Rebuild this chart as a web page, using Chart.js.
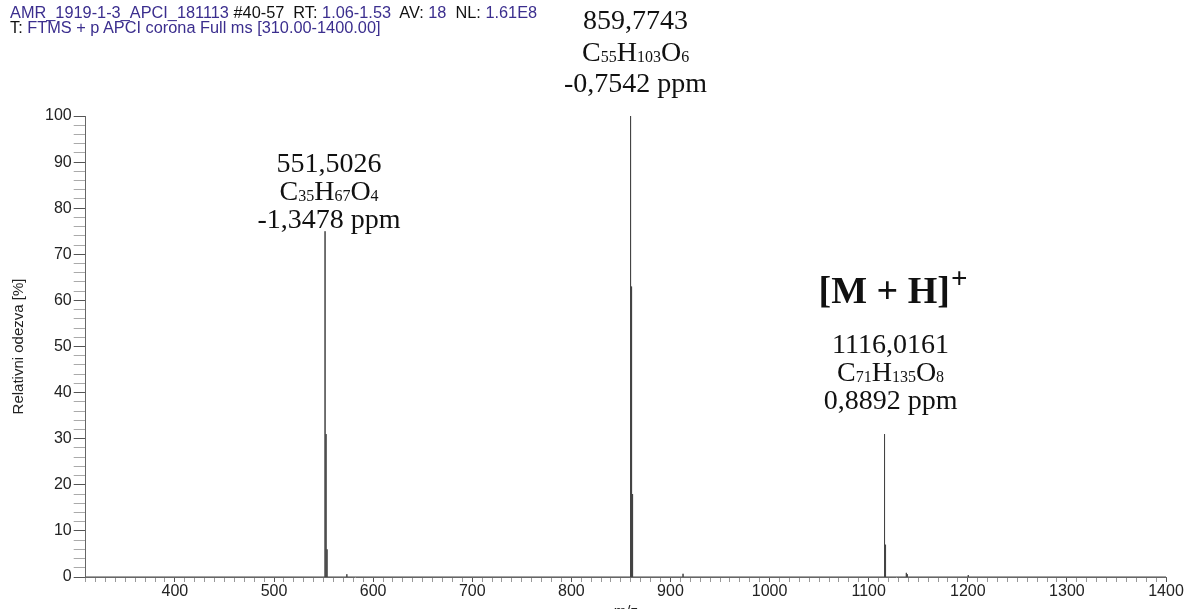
<!DOCTYPE html>
<html>
<head>
<meta charset="utf-8">
<script src="https://cdn.jsdelivr.net/npm/chart.js@4.4.0/dist/chart.umd.min.js"></script>
<style>
  html, body { margin: 0; padding: 0; background: #fff; overflow: hidden; }
  #wrap { position: relative; width: 1186px; height: 619px; }
  #header { position: absolute; left: 10px; top: 5px; font-family: "Liberation Sans", Arial, sans-serif;
            font-size: 16px; line-height: 15px; color: #111; z-index: 2; white-space: pre;
            transform: scaleX(1.02); transform-origin: 0 0; }
  #header .v { color: #3b2e8e; }
</style>
</head>
<body>
<div id="wrap">
  <div id="header"><span class="v">AMR_1919-1-3_APCI_181113</span> #40-57  RT: <span class="v">1.06-1.53</span>  AV: <span class="v">18</span>  NL: <span class="v">1.61E8</span>
T: <span class="v">FTMS + p APCI corona Full ms [310.00-1400.00]</span></div>
  <canvas id="spectrum"></canvas>
</div>
<script>
// peaks (m/z, relative intensity %)
const peakMz        = [551.50, 552.51, 553.51, 573.5, 859.77, 860.78, 861.78, 912.7, 1116.02, 1117.02, 1138.0, 1139.0, 1200.5];
const peakIntensity = [75,     31,     6,      0.6,   100,    63,     18,     0.7,   31,      7,       0.9,    0.6,    0.4];

// range of the scan
const mzMin = 310;
const mzMax = 1400;

// tick labels
const xTickLabels = [400, 500, 600, 700, 800, 900, 1000, 1100, 1200, 1300, 1400];
const yTickLabels = [0, 10, 20, 30, 40, 50, 60, 70, 80, 90, 100];

// peak annotations
const labelMz      = [551.5026, 859.7743, 1116.0161];
const labelMass    = ['551,5026', '859,7743', '1116,0161'];
const labelFormula = ['C35H67O4', 'C55H103O6', 'C71H135O8'];
const labelPpm     = ['-1,3478 ppm', '-0,7542 ppm', '0,8892 ppm'];
const labelIon     = ['', '', '[M + H]'];

// placement of the annotation blocks (pixels relative to peak top)
const labelLayout = [
  { dx: 4, dy: -3,  lineH: 28 },
  { dx: 5, dy: -24, lineH: 31.5 },
  { dx: 6, dy: -25, lineH: 28 }
];

// stick spectrum built from the peak list
const points = [{ x: mzMin, y: 0 }];
peakMz.forEach((m, i) => {
  points.push({ x: m, y: 0 });
  points.push({ x: m, y: peakIntensity[i] });
  points.push({ x: m, y: 0 });
});
points.push({ x: mzMax, y: 0 });

const serif = '"Liberation Serif", "Times New Roman", serif';

function drawFormula(ctx, text, cx, y, size) {
  const tokens = text.match(/[A-Z][a-z]?|\d+/g);
  const big = size + 'px ' + serif;
  const small = Math.round(size * 0.56) + 'px ' + serif;
  let total = 0;
  tokens.forEach(t => {
    ctx.font = /\d/.test(t) ? small : big;
    total += ctx.measureText(t).width;
  });
  let x = cx - total / 2;
  ctx.textAlign = 'left';
  tokens.forEach(t => {
    ctx.font = /\d/.test(t) ? small : big;
    ctx.fillText(t, x, y + (/\d/.test(t) ? 1 : 0));
    x += ctx.measureText(t).width;
  });
}

const peakLabels = {
  id: 'peakLabels',
  afterDatasetsDraw(chart) {
    const ctx = chart.ctx;
    const xs = chart.scales.x, ys = chart.scales.y;
    ctx.save();
    ctx.fillStyle = '#111';
    ctx.textBaseline = 'alphabetic';
    labelMz.forEach((m, i) => {
      const lay = labelLayout[i];
      const idx = peakMz.findIndex(p => Math.abs(p - m) < 0.05);
      const cx = xs.getPixelForValue(m) + lay.dx;
      const top = ys.getPixelForValue(peakIntensity[idx]);
      const base = top + lay.dy;
      ctx.textAlign = 'center';
      ctx.font = '28px ' + serif;
      ctx.fillText(labelPpm[i], cx, base);
      drawFormula(ctx, labelFormula[i], cx, base - lay.lineH, 28);
      ctx.textAlign = 'center';
      ctx.font = '28px ' + serif;
      ctx.fillText(labelMass[i], cx, base - 2 * lay.lineH);
      if (labelIon[i]) {
        ctx.font = 'bold 38px ' + serif;
        const w = ctx.measureText(labelIon[i]).width;
        ctx.font = 'bold 29px ' + serif;
        const wp = ctx.measureText('+').width;
        const left = cx - (w + wp) / 2 + 2;
        const by = base - 2 * lay.lineH - 50;
        ctx.textAlign = 'left';
        ctx.font = 'bold 38px ' + serif;
        ctx.fillText(labelIon[i], left, by);
        ctx.font = 'bold 29px ' + serif;
        ctx.fillText('+', left + w + 1, by - 15);
      }
    });
    ctx.restore();
  }
};

new Chart(document.getElementById('spectrum').getContext('2d'), {
  type: 'line',
  data: {
    datasets: [{
      label: 'spectrum',
      data: points,
      borderColor: '#444',
      borderWidth: 1,
      pointRadius: 0,
      tension: 0,
      fill: false
    }]
  },
  options: {
    responsive: true,
    maintainAspectRatio: false,
    animation: false,
    parsing: false,
    layout: { padding: { top: 116, right: 20, left: 6, bottom: 0 } },
    plugins: { legend: { display: false }, tooltip: { enabled: false } },
    scales: {
      x: {
        type: 'linear',
        min: mzMin,
        max: mzMax,
        afterBuildTicks(axis) {
          const t = [];
          for (let v = mzMin; v <= mzMax; v += 10) t.push({ value: v });
          axis.ticks = t;
        },
        ticks: {
          autoSkip: false,
          maxRotation: 0,
          padding: 2,
          color: '#222',
          font: { family: '"Liberation Sans", Arial, sans-serif', size: 16, lineHeight: 1.0 },
          callback: v => xTickLabels.includes(v) ? String(v) : ''
        },
        grid: {
          drawOnChartArea: false,
          drawTicks: true,
          tickLength: 5,
          tickColor: c => (c.tick && xTickLabels.includes(c.tick.value)) ? '#555' : '#999'
        },
        border: { color: '#666', width: 1 },
        title: {
          display: true,
          text: 'm/z',
          color: '#222',
          padding: { top: 2, bottom: 0 },
          font: { family: '"Liberation Sans", Arial, sans-serif', size: 15, lineHeight: 1.0 }
        }
      },
      y: {
        min: 0,
        max: 100,
        afterBuildTicks(axis) {
          const t = [];
          for (let v = 0; v <= 100; v += 2) t.push({ value: v });
          axis.ticks = t;
        },
        ticks: {
          autoSkip: false,
          padding: 2,
          color: '#222',
          font: { family: '"Liberation Sans", Arial, sans-serif', size: 16 },
          callback: v => yTickLabels.includes(v) ? String(v) : ''
        },
        grid: {
          drawOnChartArea: false,
          drawTicks: true,
          tickLength: 12,
          tickColor: c => (c.tick && yTickLabels.includes(c.tick.value)) ? '#555' : '#aaa'
        },
        border: { color: '#666', width: 1 },
        title: {
          display: true,
          text: 'Relativni odezva [%]',
          color: '#222',
          padding: { top: 4, bottom: 15 },
          font: { family: '"Liberation Sans", Arial, sans-serif', size: 15 }
        }
      }
    }
  },
  plugins: [peakLabels]
});
</script>
</body>
</html>
